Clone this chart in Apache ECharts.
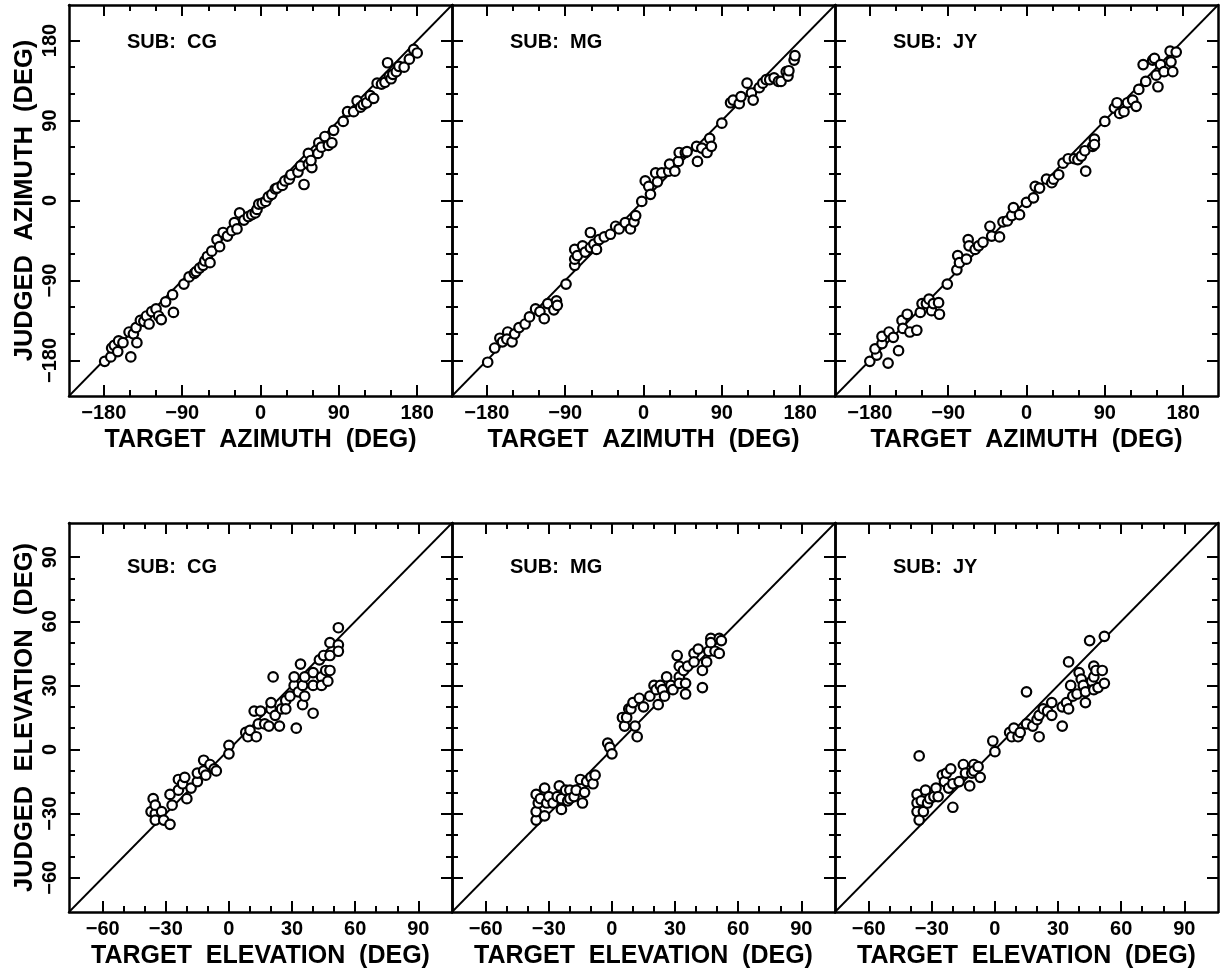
<!DOCTYPE html>
<html>
<head>
<meta charset="utf-8">
<script src="https://cdn.jsdelivr.net/npm/echarts@6/dist/echarts.min.js"></script>
<style>
  html, body { margin: 0; padding: 0; background: #fff; }
  #chart { width: 1223px; height: 970px; }
</style>
</head>
<body>
<div id="chart"></div>
<script>
// Judged vs. target source direction for three listeners (azimuth and elevation)
const subjects = ['CG', 'MG', 'JY'];

const azRange = [-220, 220];
const azMajor = [-180, -90, 0, 90, 180];
const azMinor = [-150, -120, -60, -30, 30, 60, 120, 150];

const elRange = [-76, 106];
const elMajor = [-60, -30, 0, 30, 60, 90];
const elMinor = [-50, -40, -20, -10, 10, 20, 40, 50, 70, 80];

// [target, judged] pairs in degrees
const azCG = [
  [-179,-181],[-172,-176],[-171,-166],[-168,-163],[-163,-158],[-164,-170],[-158,-160],[-149,-176],
  [-151,-148],[-146,-150],[-142,-160],[-143,-143],[-138,-135],[-134,-136],[-131,-130],[-128,-139],
  [-125,-125],[-120,-122],[-117,-130],[-114,-134],[-109,-114],[-100,-126],[-101,-106],[-88,-94],
  [-82,-86],[-76,-82],[-74,-80],[-70,-76],[-66,-73],[-64,-68],[-61,-63],[-58,-70],[-56,-57],
  [-50,-44],[-47,-52],[-43,-36],[-38,-40],[-33,-34],[-30,-25],[-27,-32],[-24,-14],[-19,-22],
  [-14,-18],[-10,-16],[-6,-14],[-4,-10],[-2,-4],[2,-3],[6,-1],[9,4],[13,7],[17,13],[19,14],
  [25,17],[28,22],[33,24],[35,29],[43,32],[46,39],[50,18],[55,53],[55,41],[59,37],[58,45],
  [66,53],[67,65],[70,60],[74,72],[78,62],[82,65],[84,79],[95,89],[100,100],[107,100],[111,112],
  [115,105],[118,108],[122,110],[126,118],[130,115],[134,132],[139,131],[143,133],[146,155],
  [148,140],[150,137],[152,142],[156,145],[159,151],[165,150],[171,159],[176,170],[180,166]
];
const azMG = [
  [-179,-182],[-171,-166],[-165,-155],[-162,-159],[-156,-148],[-157,-156],[-151,-159],[-148,-150],
  [-143,-143],[-136,-139],[-131,-131],[-124,-122],[-119,-125],[-114,-133],[-110,-116],[-103,-123],
  [-100,-113],[-99,-118],[-89,-94],[-79,-73],[-79,-66],[-79,-55],[-76,-62],[-70,-51],[-67,-58],
  [-61,-36],[-61,-53],[-57,-49],[-54,-55],[-51,-44],[-45,-41],[-38,-38],[-32,-29],[-28,-32],
  [-21,-25],[-15,-32],[-11,-24],[-9,-17],[-2,-1],[2,22],[6,16],[8,7],[14,31],[16,21],[21,31],
  [29,33],[30,41],[36,33],[40,44],[41,54],[48,54],[50,55],[61,61],[62,44],[67,59],[73,54],
  [76,70],[78,61],[90,87],[100,110],[103,113],[110,109],[112,117],[119,132],[124,121],[126,113],
  [133,127],[137,132],[141,136],[145,136],[150,138],[155,134],[158,134],[164,145],[166,140],
  [167,146],[173,158],[174,163]
];
const azJY = [
  [-180,-181],[-172,-174],[-174,-167],[-166,-161],[-166,-153],[-159,-183],[-158,-148],[-153,-154],
  [-147,-169],[-143,-135],[-142,-144],[-137,-128],[-134,-148],[-126,-146],[-122,-126],[-120,-116],
  [-115,-116],[-112,-111],[-109,-124],[-107,-116],[-101,-115],[-100,-128],[-91,-94],[-80,-78],
  [-79,-62],[-77,-70],[-69,-66],[-67,-44],[-66,-51],[-59,-55],[-55,-51],[-50,-47],[-42,-29],
  [-40,-40],[-31,-41],[-27,-24],[-22,-23],[-17,-17],[-15,-8],[-8,-16],[0,-2],[8,3],[10,16],
  [15,14],[23,24],[29,20],[31,24],[37,29],[42,42],[48,47],[55,47],[59,46],[63,50],[67,56],
  [68,33],[76,61],[78,69],[78,63],[90,89],[101,104],[104,110],[107,98],[112,100],[116,110],
  [122,113],[126,106],[129,125],[134,153],[137,134],[145,158],[147,160],[149,141],[151,128],
  [154,153],[158,145],[165,168],[166,156],[168,145],[172,167]
];
const elCG = [
  [-36,-23],[-37,-29],[-35,-30],[-35,-33],[-35,-26],[-32,-29],[-31,-33],[-28,-35],[-28,-21],
  [-27,-26],[-24,-14],[-24,-19],[-22,-16],[-21,-13],[-20,-23],[-18,-18],[-15,-15],[-15,-11],
  [-12,-5],[-12,-10],[-11,-12],[-9,-7],[-7,-9],[-6,-10],[0,2],[0,-2],[8,8],[9,6],[10,9],
  [12,18],[13,6],[14,12],[15,18],[17,12],[19,11],[20,19],[20,22],[21,34],[22,16],[24,11],
  [25,19],[27,23],[27,19],[29,25],[31,30],[31,34],[32,10],[33,27],[34,40],[35,30],[35,21],
  [36,34],[36,25],[40,17],[40,30],[40,36],[43,42],[44,34],[44,30],[45,44],[46,37],[47,32],
  [48,50],[48,44],[48,37],[52,57],[52,49],[52,46]
];
const elMG = [
  [-36,-21],[-36,-33],[-36,-29],[-35,-25],[-34,-23],[-32,-18],[-32,-31],[-31,-25],[-30,-22],
  [-28,-25],[-26,-22],[-25,-17],[-24,-23],[-24,-28],[-22,-19],[-21,-24],[-20,-19],[-20,-23],
  [-18,-22],[-17,-19],[-15,-14],[-14,-25],[-13,-20],[-12,-15],[-10,-13],[-9,-16],[-8,-12],
  [-2,3],[-1,1],[0,-2],[5,15],[6,11],[7,15],[8,19],[9,19],[10,22],[11,11],[12,6],[13,24],
  [15,20],[18,25],[20,30],[21,28],[22,21],[23,30],[24,28],[25,25],[26,34],[28,30],[29,28],
  [31,44],[32,34],[32,39],[32,31],[34,37],[35,31],[35,26],[36,39],[39,45],[39,41],[41,47],
  [43,37],[43,29],[45,41],[46,46],[47,52],[47,50],[49,46],[51,45],[51,52],[52,51]
];
const elJY = [
  [-36,-3],[-37,-21],[-37,-25],[-37,-29],[-36,-33],[-35,-24],[-34,-29],[-33,-19],[-32,-25],
  [-31,-23],[-29,-22],[-28,-18],[-27,-22],[-25,-12],[-24,-15],[-23,-11],[-22,-18],[-21,-9],
  [-20,-27],[-20,-16],[-17,-15],[-15,-7],[-14,-11],[-12,-17],[-11,-11],[-10,-7],[-10,-10],
  [-8,-8],[-7,-13],[-1,4],[0,-1],[7,8],[8,6],[9,10],[11,6],[12,8],[15,27],[15,12],[18,11],
  [20,14],[21,6],[21,16],[23,19],[25,18],[27,22],[27,16],[32,11],[32,20],[34,22],[35,41],
  [35,19],[36,30],[37,25],[39,26],[40,36],[41,33],[42,30],[43,22],[43,27],[45,51],[46,32],
  [47,28],[47,39],[47,34],[48,37],[49,29],[51,37],[52,53],[52,31]
];

const FONT = '"Liberation Sans", Arial, Helvetica, sans-serif';

// panel frames in pixels
const colLeft = [69, 452, 835];
const colWidth = 383;
const rows = [
  { top: 5, height: 391, range: azRange, major: azMajor, minor: azMinor,
    xName: 'TARGET  AZIMUTH  (DEG)', yName: 'JUDGED  AZIMUTH  (DEG)',
    data: [azCG, azMG, azJY], subTop: 22 },
  { top: 523, height: 389, range: elRange, major: elMajor, minor: elMinor,
    xName: 'TARGET  ELEVATION  (DEG)', yName: 'JUDGED  ELEVATION  (DEG)',
    data: [elCG, elMG, elJY], subTop: 29 }
];

const fmt = v => (v < 0 ? '\u2212' + Math.abs(v) : String(v));

const grid = [], xAxis = [], yAxis = [], series = [], title = [];

function makeAxis(gridIndex, position, range, values, isMajor, label, name, isY) {
  const ax = {
    type: 'value', gridIndex, position, min: range[0], max: range[1],
    axisLine: { show: isMajor, onZero: false, lineStyle: { color: '#000', width: 2.5 } },
    axisTick: { show: true, inside: true, length: isMajor ? 11 : 6, customValues: values,
                lineStyle: { color: '#000', width: 2 } },
    axisLabel: { show: false },
    splitLine: { show: false }
  };
  if (label) {
    ax.axisLabel = {
      show: true, customValues: values, formatter: fmt,
      color: '#000', fontFamily: FONT, fontWeight: 'bold', fontSize: 20,
      margin: isY ? 9 : 7, rotate: isY ? 90 : 0
    };
  }
  if (name) {
    ax.name = name;
    ax.nameLocation = 'middle';
    ax.nameGap = isY ? 31 : 32;
    ax.nameTextStyle = { color: '#000', fontFamily: FONT, fontWeight: 'bold',
                         fontSize: isY ? 25.5 : 25 };
  }
  return ax;
}

rows.forEach((row, r) => {
  subjects.forEach((sub, c) => {
    const g = grid.length;
    grid.push({ left: colLeft[c], top: row.top, width: colWidth, height: row.height });
    const base = xAxis.length;
    xAxis.push(makeAxis(g, 'bottom', row.range, row.major, true, true, row.xName, false));
    xAxis.push(makeAxis(g, 'bottom', row.range, row.minor, false, false, null, false));
    xAxis.push(makeAxis(g, 'top', row.range, row.major, true, false, null, false));
    xAxis.push(makeAxis(g, 'top', row.range, row.minor, false, false, null, false));
    yAxis.push(makeAxis(g, 'left', row.range, row.major, true, c === 0, c === 0 ? row.yName : null, true));
    yAxis.push(makeAxis(g, 'left', row.range, row.minor, false, false, null, true));
    yAxis.push(makeAxis(g, 'right', row.range, row.major, true, false, null, true));
    yAxis.push(makeAxis(g, 'right', row.range, row.minor, false, false, null, true));

    // identity line: judged = target
    series.push({
      type: 'line', xAxisIndex: base, yAxisIndex: base, silent: true, z: 2,
      symbol: 'none', animation: false,
      data: [[row.range[0], row.range[0]], [row.range[1], row.range[1]]],
      lineStyle: { color: '#000', width: 1.8 }
    });
    series.push({
      type: 'scatter', xAxisIndex: base, yAxisIndex: base, silent: true, z: 3,
      symbol: 'circle', symbolSize: 9.5, animation: false,
      data: row.data[c],
      itemStyle: { color: '#fff', borderColor: '#000', borderWidth: 2.2, opacity: 1 }
    });

    title.push({
      text: 'SUB:  ' + sub,
      left: colLeft[c] + 53, top: row.top + row.subTop,
      textStyle: { color: '#000', fontFamily: FONT, fontWeight: 'bold', fontSize: 20 }
    });
  });
});

const chart = echarts.init(document.getElementById('chart'), null, { renderer: 'canvas' });
chart.setOption({
  backgroundColor: '#fff',
  animation: false,
  title, grid, xAxis, yAxis, series
});
</script>
</body>
</html>
